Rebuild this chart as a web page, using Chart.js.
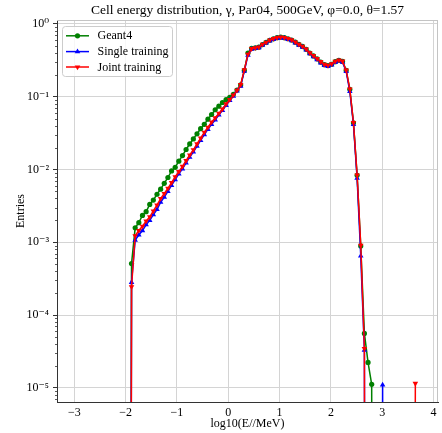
<!DOCTYPE html>
<html>
<head>
<meta charset="utf-8">
<script src="https://cdn.jsdelivr.net/npm/chart.js@4.4.1/dist/chart.umd.min.js"></script>
<style>
  html, body { margin: 0; padding: 0; background: #ffffff; }
  #wrap { width: 442px; height: 433px; }
</style>
</head>
<body>
<div id="wrap"><canvas id="c" width="442" height="433"></canvas></div>
<script>
// ---------------- data ----------------
const TITLE = 'Cell energy distribution, γ, Par04, 500GeV, φ=0.0, θ=1.57';
const X_LABEL = 'log10(E//MeV)';
const Y_LABEL = 'Entries';
const SERIES_NAMES = ['Geant4', 'Single training', 'Joint training'];

// bin positions, log10(E/MeV)
const logE = [
  -1.956, -1.885, -1.814, -1.743, -1.672, -1.601, -1.530, -1.460, -1.389, -1.318,
  -1.247, -1.176, -1.105, -1.034, -0.963, -0.892, -0.822, -0.751, -0.680, -0.609,
  -0.538, -0.467, -0.396, -0.325, -0.254, -0.183, -0.113, -0.042, 0.029, 0.100,
  0.171, 0.242, 0.313, 0.384, 0.455, 0.526, 0.597, 0.667, 0.738, 0.809,
  0.880, 0.951, 1.022, 1.093, 1.164, 1.235, 1.306, 1.376, 1.447, 1.518,
  1.589, 1.660, 1.731, 1.802, 1.873, 1.944, 2.015, 2.085, 2.156, 2.227,
  2.298, 2.369, 2.440, 2.511, 2.582, 2.653, 2.724, 2.795, 2.866, 2.937,
  3.008, 3.078, 3.149, 3.220, 3.291, 3.362, 3.433, 3.504, 3.575, 3.646
];

const geant4 = [
  0,
  5.1e-4, 1.58e-3, 1.86e-3, 2.34e-3, 2.63e-3, 3.31e-3, 3.80e-3, 4.57e-3, 5.37e-3, 6.46e-3,
  7.76e-3, 9.55e-3, 1.07e-2, 1.30e-2, 1.55e-2, 1.88e-2, 2.24e-2, 2.63e-2, 3.09e-2, 3.63e-2,
  4.17e-2, 4.90e-2, 5.69e-2, 6.61e-2, 7.41e-2, 8.32e-2, 9.12e-2, 9.77e-2, 0.108, 0.123,
  0.145, 0.229, 0.398, 0.462, 0.468, 0.479, 0.519, 0.556, 0.596, 0.624,
  0.646, 0.656, 0.646, 0.625, 0.600, 0.560, 0.522, 0.490, 0.447, 0.398,
  0.363, 0.331, 0.299, 0.275, 0.267, 0.279, 0.302, 0.316, 0.305, 0.229,
  0.126, 4.37e-2, 8.3e-3, 8.9e-4, 5.6e-5, 2.24e-5, 1.12e-5, 0, 0, 0,
  0, 0, 0, 0, 0, 0, 0, 0, 0
];

const singleTraining = [
  0,
  2.82e-4, 1.07e-3, 1.26e-3, 1.45e-3, 1.74e-3, 2.00e-3, 2.40e-3, 2.82e-3, 3.55e-3, 4.17e-3,
  5.01e-3, 6.03e-3, 7.24e-3, 8.71e-3, 1.02e-2, 1.23e-2, 1.48e-2, 1.74e-2, 2.09e-2, 2.51e-2,
  3.02e-2, 3.55e-2, 4.17e-2, 4.79e-2, 5.62e-2, 6.46e-2, 7.59e-2, 8.91e-2, 0.102, 0.120,
  0.140, 0.224, 0.372, 0.450, 0.460, 0.470, 0.510, 0.547, 0.585, 0.612,
  0.634, 0.643, 0.634, 0.613, 0.588, 0.549, 0.512, 0.480, 0.438, 0.390,
  0.355, 0.323, 0.292, 0.268, 0.261, 0.273, 0.296, 0.310, 0.298, 0.222,
  0.118, 4.17e-2, 7.6e-3, 6.5e-4, 3.3e-5, 0, 0, 0, 0, 1.1e-5,
  0, 0, 0, 0, 0, 0, 0, 0, 0
];

const jointTraining = [
  0,
  2.45e-4, 1.23e-3, 1.45e-3, 1.66e-3, 1.95e-3, 2.24e-3, 2.69e-3, 3.24e-3, 3.98e-3, 4.68e-3,
  5.50e-3, 6.61e-3, 7.94e-3, 9.33e-3, 1.10e-2, 1.32e-2, 1.58e-2, 1.86e-2, 2.24e-2, 2.69e-2,
  3.24e-2, 3.80e-2, 4.47e-2, 5.13e-2, 5.89e-2, 6.76e-2, 7.94e-2, 9.12e-2, 0.105, 0.122,
  0.146, 0.234, 0.382, 0.456, 0.470, 0.481, 0.522, 0.558, 0.599, 0.628,
  0.649, 0.660, 0.650, 0.628, 0.603, 0.563, 0.525, 0.493, 0.450, 0.401,
  0.366, 0.334, 0.302, 0.277, 0.269, 0.282, 0.305, 0.319, 0.307, 0.231,
  0.127, 4.40e-2, 8.4e-3, 9.1e-4, 3.47e-5, 0, 0, 0, 0, 0,
  0, 0, 0, 0, 0, 0, 0, 0, 1.15e-5
];

const X_TICKS = [-3, -2, -1, 0, 1, 2, 3, 4];
const X_TICK_LABELS = ['\u22123', '\u22122', '\u22121', '0', '1', '2', '3', '4'];
const Y_TICKS = [1e-5, 1e-4, 1e-3, 1e-2, 1e-1, 1];
const Y_TICK_LABELS = ['10\u207B\u2075', '10\u207B\u2074', '10\u207B\u00B3', '10\u207B\u00B2', '10\u207B\u00B9', '10\u2070'];

const X_RANGE = [-3.3375, 4.0875];
const Y_RANGE = [6.4e-6, 1.13];

// ---------------- styling ----------------
const SERIF = "'Liberation Serif', 'DejaVu Serif', 'Times New Roman', serif";
const COLORS = ['#008000', '#0000ff', '#ff0000'];
const STYLES = [
  { pointStyle: 'circle', radius: 2.6, rotation: 0 },
  { pointStyle: 'triangle', radius: 3.2, rotation: 0 },
  { pointStyle: 'triangle', radius: 3.2, rotation: 180 }
];
const GRID = '#d4d4d4';
const AXIS = '#333333';

// matplotlib clips non-positive values on a log axis far below the view
const CLIP_VALUE = 1e-30;
function toPoints(values) {
  return logE.map((x, i) => ({ x: x, y: values[i] > 0 ? values[i] : CLIP_VALUE }));
}

const seriesValues = [geant4, singleTraining, jointTraining];
const datasets = seriesValues.map((vals, i) => ({
  label: SERIES_NAMES[i],
  data: toPoints(vals),
  borderColor: COLORS[i],
  backgroundColor: COLORS[i],
  borderWidth: 1.5,
  pointStyle: STYLES[i].pointStyle,
  pointRotation: STYLES[i].rotation,
  pointRadius: (ctx) => (vals[ctx.dataIndex] > 0 ? STYLES[i].radius : 0),
  pointBorderWidth: 0,
  pointHoverRadius: 0,
  tension: 0,
  order: 3 - i,
  spanGaps: false
}));

// ---------------- extra drawing: spines, minor ticks, legend ----------------
function drawMarker(ctx, style, color, x, y) {
  ctx.save();
  ctx.fillStyle = color;
  ctx.strokeStyle = color;
  if (Chart.helpers && Chart.helpers.drawPoint) {
    Chart.helpers.drawPoint(ctx, {
      pointStyle: style.pointStyle, radius: style.radius, rotation: style.rotation, borderWidth: 0
    }, x, y);
  }
  ctx.restore();
}

const extras = {
  id: 'extras',
  afterDraw(chart) {
    const { ctx, chartArea: a, scales } = chart;
    const y = scales.y;
    ctx.save();
    // light top & right spines
    ctx.strokeStyle = '#c4c4c4';
    ctx.lineWidth = 1;
    ctx.beginPath();
    ctx.moveTo(a.left, a.top + 0.5); ctx.lineTo(a.right, a.top + 0.5);
    ctx.moveTo(a.right - 0.5, a.top); ctx.lineTo(a.right - 0.5, a.bottom);
    ctx.stroke();
    // minor log ticks on the y axis
    ctx.strokeStyle = AXIS;
    ctx.lineWidth = 0.8;
    ctx.beginPath();
    for (let e = -6; e <= 0; e++) {
      for (let m = 2; m <= 9; m++) {
        const v = m * Math.pow(10, e);
        if (v < y.min || v > y.max) continue;
        const py = Math.round(y.getPixelForValue(v)) + 0.5;
        ctx.moveTo(a.left, py); ctx.lineTo(a.left - 2, py);
      }
    }
    ctx.stroke();

    // legend box
    const bx = 62.5, by = 26.5, bw = 110, bh = 50, r = 3;
    ctx.beginPath();
    ctx.moveTo(bx + r, by);
    ctx.arcTo(bx + bw, by, bx + bw, by + bh, r);
    ctx.arcTo(bx + bw, by + bh, bx, by + bh, r);
    ctx.arcTo(bx, by + bh, bx, by, r);
    ctx.arcTo(bx, by, bx + bw, by, r);
    ctx.closePath();
    ctx.fillStyle = 'rgba(255,255,255,0.8)';
    ctx.fill();
    ctx.strokeStyle = '#cccccc';
    ctx.lineWidth = 1;
    ctx.stroke();

    const rows = [35.8, 51.6, 67.0];
    ctx.font = '12px ' + SERIF;
    ctx.textBaseline = 'middle';
    ctx.textAlign = 'left';
    SERIES_NAMES.forEach((name, i) => {
      const ry = rows[i];
      ctx.strokeStyle = COLORS[i];
      ctx.lineWidth = 1.5;
      ctx.beginPath();
      ctx.moveTo(66, ry); ctx.lineTo(89, ry);
      ctx.stroke();
      drawMarker(ctx, STYLES[i], COLORS[i], 77.5, ry);
      ctx.fillStyle = '#000000';
      ctx.fillText(name, 97.5, ry + 0.5);
    });
    ctx.restore();
  }
};

// ---------------- chart ----------------
new Chart(document.getElementById('c'), {
  type: 'line',
  data: { datasets: datasets },
  plugins: [extras],
  options: {
    responsive: false,
    animation: false,
    devicePixelRatio: 1,
    layout: { padding: { left: 0, right: 4, top: 0, bottom: 0 } },
    plugins: {
      legend: { display: false },
      tooltip: { enabled: false },
      title: {
        display: true,
        fullSize: false,
        text: TITLE,
        color: '#000000',
        font: { family: SERIF, size: 13.5, weight: 'normal', lineHeight: 1.2 },
        padding: { top: 2.4, bottom: 1.4 }
      }
    },
    scales: {
      x: {
        type: 'linear',
        min: X_RANGE[0],
        max: X_RANGE[1],
        afterBuildTicks: (s) => { s.ticks = X_TICKS.map(v => ({ value: v })); },
        afterFit: (s) => { s.height = 31; },
        ticks: {
          autoSkip: false, maxRotation: 0, minRotation: 0,
          color: '#000000', padding: 0.5,
          font: { family: SERIF, size: 12 },
          callback: (v, i) => X_TICK_LABELS[i]
        },
        grid: { color: GRID, lineWidth: 1, tickLength: 3, tickColor: 'rgba(0,0,0,0)' },
        border: { display: true, color: AXIS, width: 1 },
        title: {
          display: true, text: X_LABEL, color: '#000000',
          font: { family: SERIF, size: 12 }, padding: { top: 0, bottom: 2.4 }
        }
      },
      y: {
        type: 'logarithmic',
        min: Y_RANGE[0],
        max: Y_RANGE[1],
        afterBuildTicks: (s) => { s.ticks = Y_TICKS.map(v => ({ value: v })); },
        afterFit: (s) => { s.width = 57; },
        ticks: {
          autoSkip: false, color: '#000000', padding: 4,
          font: { family: SERIF, size: 12 },
          callback: (v, i) => Y_TICK_LABELS[i]
        },
        grid: { color: GRID, lineWidth: 1, tickLength: 4, tickColor: AXIS },
        border: { display: true, color: AXIS, width: 1 },
        title: {
          display: true, text: Y_LABEL, color: '#000000',
          font: { family: SERIF, size: 12 }, padding: { top: 14, bottom: 0 }
        }
      }
    }
  }
});
</script>
</body>
</html>
